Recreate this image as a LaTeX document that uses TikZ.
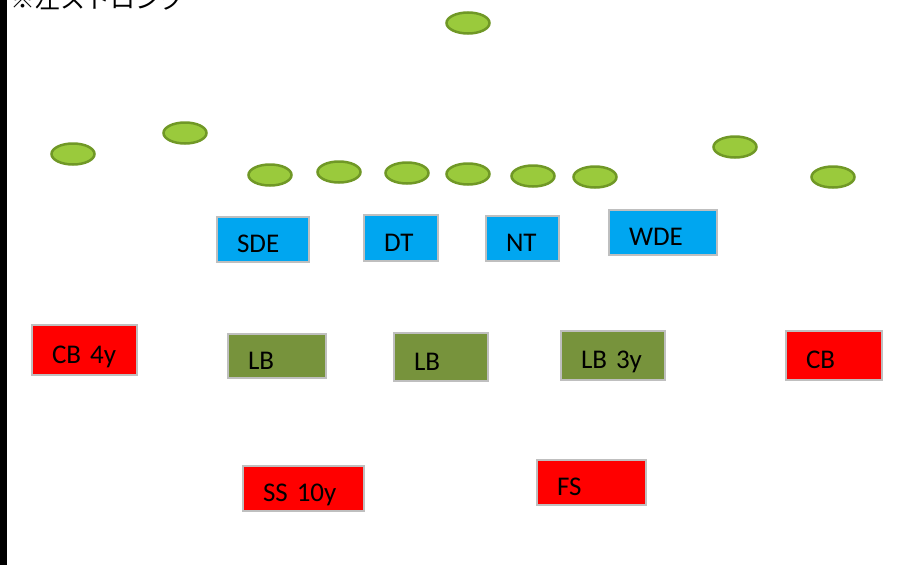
\documentclass[tikz,border=0pt]{standalone}
\usepackage{fontspec}
\setmainfont{Carlito}
\newfontfamily\jpfont{Noto Sans CJK JP}
\usetikzlibrary{shapes.geometric}
\definecolor{manfill}{RGB}{154,202,60}
\definecolor{manline}{RGB}{112,152,38}
\definecolor{dlblue}{RGB}{0,166,240}
\definecolor{lbgreen}{RGB}{119,147,60}
\definecolor{dbred}{RGB}{255,0,0}
\definecolor{boxline}{RGB}{191,191,191}

\begin{document}
\begin{tikzpicture}[x=1pt,y=-1pt,
    man/.style={ellipse,draw=manline,fill=manfill,line width=2.5pt,
      minimum width=43pt,minimum height=21pt,inner sep=0pt},
    player/.style={rectangle,draw=boxline,line width=2pt,inner xsep=20pt,
      inner ysep=0pt,align=left,text height=26pt,text depth=0pt,
      font=\fontsize{27}{32}\selectfont},
    dl/.style={player,fill=dlblue},
    lb/.style={player,fill=lbgreen},
    db/.style={player,fill=dbred}
  ]
    \clip (0,0) rectangle (923,565);
    \useasboundingbox (0,0) rectangle (923,565);
    \fill[black] (0,0) rectangle (7,565);

    \node[anchor=base west,inner sep=0pt,font=\jpfont\fontsize{25}{30}\selectfont]
      (title) at (10,8) {※左ストロング};

    % offense
    \node[man] (qb) at (468,23) {};
    \node[man] (wl) at (73,154) {};
    \node[man] (sl) at (185,133) {};
    \node[man] (te) at (270,175) {};
    \node[man] (lt) at (339,172) {};
    \node[man] (lg) at (407,173) {};
    \node[man] (c)  at (468,174) {};
    \node[man] (rg) at (533,176) {};
    \node[man] (rt) at (595,177) {};
    \node[man] (sr) at (735,147) {};
    \node[man] (wr) at (833,177) {};

    % defensive line
    \node[dl,text width=52pt,minimum height=45pt] (sde) at (263,239.5) {SDE};
    \node[dl,text width=34pt,minimum height=46pt] (dt)  at (401,238) {DT};
    \node[dl,text width=33pt,minimum height=45pt] (nt)  at (522.5,238.5) {NT};
    \node[dl,text width=68pt,minimum height=45pt] (wde) at (663,232.5) {WDE};

    % linebackers
    \node[lb,text width=58pt,minimum height=44pt] (lbs) at (277,356) {LB};
    \node[lb,text width=54pt,minimum height=48pt] (lbm) at (441,357) {LB};
    \node[lb,text width=64pt,minimum height=49pt] (lbw) at (613,355.5) {LB 3y};

    % backs
    \node[db,text width=65pt,minimum height=50pt] (cbl) at (84.5,350) {CB 4y};
    \node[db,text width=56pt,minimum height=49pt] (cbr) at (834,355.5) {CB};
    \node[db,text width=81pt,minimum height=45pt] (ss)  at (303.5,488.5) {SS 10y};
    \node[db,text width=69pt,minimum height=45pt] (fs)  at (591.5,482.5) {FS};
\end{tikzpicture}
\end{document}
